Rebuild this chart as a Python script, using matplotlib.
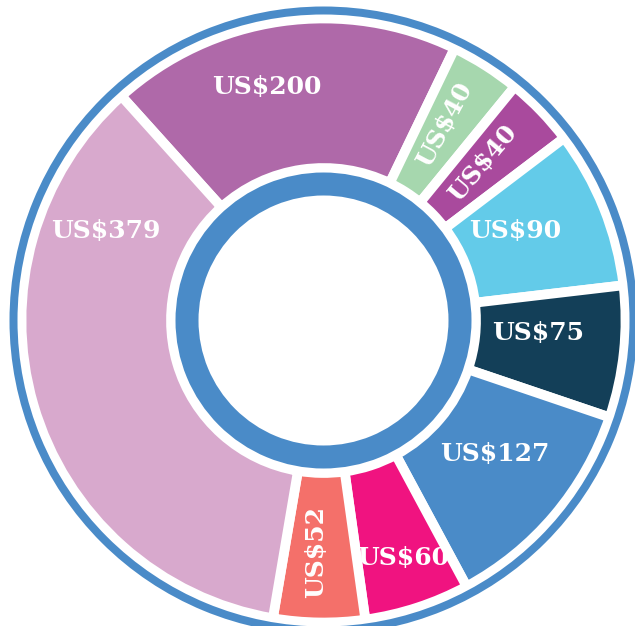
import numpy as np
import matplotlib
matplotlib.use("Agg")
import matplotlib.pyplot as plt
from matplotlib.patches import Wedge

# Data
labels = ["US$200", "US$40", "US$40", "US$90", "US$75", "US$127", "US$60", "US$52", "US$379"]
values = [200, 40, 40, 90, 75, 127, 60, 52, 379]
colors = ["#AF69A9", "#A6D7AE", "#A94A9D", "#63CBE9", "#133F58",
          "#4A8BC8", "#F01380", "#F4706A", "#D8A9CD"]

# Layout (label placement within each wedge)
label_frac = [0.42, 0.45, 0.45, 0.40, 0.40, 0.45, 0.48, 0.55, 0.80]
label_rad = [240, 230, 224, 212, 215, 217, 250, 232, 235]
label_rot = [0, 62, 50, 0, 0, 0, 0, 90, 0]

W, H = 635, 626
fig = plt.figure(figsize=(W / 100, H / 100), dpi=100)
ax = fig.add_axes([0, 0, 1, 1])

cx, cy = 323.5, H - 320.5
start = 132
wedges, _ = ax.pie(values, colors=colors, startangle=start, counterclock=False,
                   radius=302, center=(cx, cy),
                   wedgeprops=dict(width=149.5, edgecolor="white", linewidth=7))

# rings
ax.add_patch(Wedge((cx, cy), 314, 0, 360, width=8, facecolor="#4A8BC8", edgecolor="none"))
ax.add_patch(Wedge((cx, cy), 148, 0, 360, width=23, facecolor="#4A8BC8", edgecolor="none"))

for w, lab, f, r, rot in zip(wedges, labels, label_frac, label_rad, label_rot):
    # counterclock=False: theta1 is end, theta2 is start
    a = w.theta2 - f * (w.theta2 - w.theta1)
    x = cx + r * np.cos(np.radians(a))
    y = cy + r * np.sin(np.radians(a))
    ax.text(x, y, lab, color="white", fontsize=18, fontweight="bold",
            family="DejaVu Serif", ha="center", va="center",
            rotation=rot, rotation_mode="anchor")

ax.set_xlim(0, W)
ax.set_ylim(0, H)
ax.set_aspect("equal")
ax.axis("off")
fig.savefig("out.png", dpi=100, facecolor="white")
